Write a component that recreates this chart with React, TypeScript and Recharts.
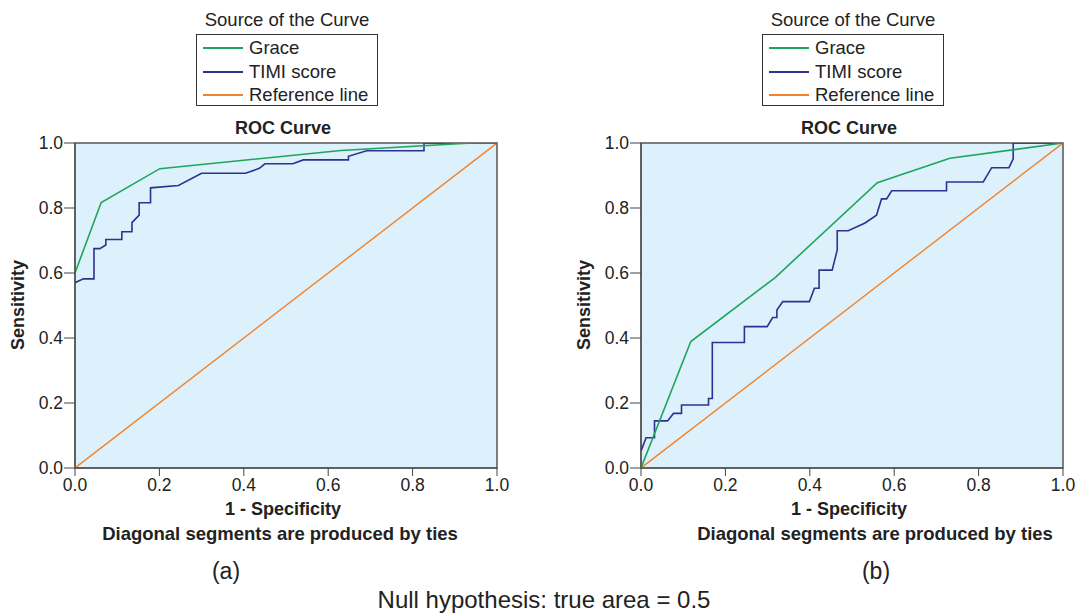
import React from 'react'
import { LineChart, Line, XAxis, YAxis, ReferenceArea } from 'recharts'

type Pt = { x: number; y: number }

const axisTicks = [0, 0.2, 0.4, 0.6, 0.8, 1.0]
const seriesNames = ['Grace', 'TIMI score', 'Reference line']
const seriesColors = ['#1fa55b', '#2e3192', '#f4822a']

// panel (a)
const graceA: Pt[] = [
  { x: 0, y: 0.6 }, { x: 0.062, y: 0.817 }, { x: 0.201, y: 0.921 },
  { x: 0.63, y: 0.977 }, { x: 0.94, y: 1.0 }, { x: 1, y: 1 },
]
const timiA: Pt[] = [
  { x: 0, y: 0.57 }, { x: 0.02, y: 0.582 }, { x: 0.045, y: 0.582 }, { x: 0.045, y: 0.675 },
  { x: 0.059, y: 0.675 }, { x: 0.073, y: 0.686 }, { x: 0.073, y: 0.703 }, { x: 0.111, y: 0.703 },
  { x: 0.111, y: 0.727 }, { x: 0.135, y: 0.727 }, { x: 0.135, y: 0.755 }, { x: 0.152, y: 0.778 },
  { x: 0.152, y: 0.816 }, { x: 0.179, y: 0.816 }, { x: 0.179, y: 0.862 }, { x: 0.245, y: 0.869 },
  { x: 0.3, y: 0.907 }, { x: 0.404, y: 0.907 }, { x: 0.437, y: 0.922 }, { x: 0.45, y: 0.936 },
  { x: 0.516, y: 0.936 }, { x: 0.541, y: 0.948 }, { x: 0.648, y: 0.948 }, { x: 0.648, y: 0.959 },
  { x: 0.691, y: 0.976 }, { x: 0.827, y: 0.976 }, { x: 0.827, y: 1.0 }, { x: 1, y: 1 },
]

// panel (b)
const graceB: Pt[] = [
  { x: 0, y: 0 }, { x: 0.118, y: 0.389 }, { x: 0.318, y: 0.586 },
  { x: 0.56, y: 0.878 }, { x: 0.732, y: 0.953 }, { x: 1, y: 1 },
]
const timiB: Pt[] = [
  { x: 0, y: 0.052 }, { x: 0.012, y: 0.093 }, { x: 0.032, y: 0.093 }, { x: 0.032, y: 0.145 },
  { x: 0.063, y: 0.145 }, { x: 0.077, y: 0.168 }, { x: 0.096, y: 0.168 }, { x: 0.096, y: 0.194 },
  { x: 0.16, y: 0.194 }, { x: 0.16, y: 0.214 }, { x: 0.169, y: 0.214 }, { x: 0.169, y: 0.386 },
  { x: 0.245, y: 0.386 }, { x: 0.245, y: 0.435 }, { x: 0.299, y: 0.435 }, { x: 0.312, y: 0.463 },
  { x: 0.322, y: 0.463 }, { x: 0.322, y: 0.486 }, { x: 0.336, y: 0.512 }, { x: 0.399, y: 0.512 },
  { x: 0.411, y: 0.553 }, { x: 0.422, y: 0.553 }, { x: 0.422, y: 0.609 }, { x: 0.453, y: 0.609 },
  { x: 0.465, y: 0.671 }, { x: 0.465, y: 0.73 }, { x: 0.491, y: 0.73 }, { x: 0.531, y: 0.754 },
  { x: 0.558, y: 0.778 }, { x: 0.57, y: 0.828 }, { x: 0.582, y: 0.828 }, { x: 0.594, y: 0.853 },
  { x: 0.724, y: 0.853 }, { x: 0.724, y: 0.88 }, { x: 0.811, y: 0.88 }, { x: 0.831, y: 0.924 },
  { x: 0.872, y: 0.924 }, { x: 0.882, y: 0.951 }, { x: 0.882, y: 1.0 }, { x: 1, y: 1 },
]

const referenceLine: Pt[] = [{ x: 0, y: 0 }, { x: 1, y: 1 }]

const font = '"Liberation Sans", Arial, Helvetica, sans-serif'
const axisColor = '#444'
const textColor = '#222'

// centered text line, cy = vertical centre of the line
function textAt(cx: number, cy: number, width: number, fontSize: number, bold = false): React.CSSProperties {
  return {
    position: 'absolute',
    left: cx - width / 2,
    top: cy - 14,
    width,
    height: 28,
    lineHeight: '28px',
    textAlign: 'center',
    fontSize,
    fontWeight: bold ? 'bold' : 'normal',
    fontFamily: font,
    color: textColor,
    whiteSpace: 'nowrap',
  }
}

function LegendBox({ cx }: { cx: number }) {
  return (
    <>
      <div style={textAt(cx, 20, 260, 18.5)}>Source of the Curve</div>
      <div
        style={{
          position: 'absolute',
          left: cx - 91,
          top: 34,
          width: 180,
          height: 70,
          border: '1px solid #333',
          background: '#fff',
        }}
      >
        {seriesNames.map((n, i) => (
          <div key={n} style={{ position: 'absolute', left: 6, top: 1 + i * 23.5, height: 24, display: 'flex', alignItems: 'center' }}>
            <div style={{ width: 40, height: 2, background: seriesColors[i], marginRight: 6 }} />
            <span style={{ fontSize: 18.5, fontFamily: font, color: textColor, lineHeight: '24px' }}>{n}</span>
          </div>
        ))}
      </div>
    </>
  )
}

function RocPanel(props: { left: number; grace: Pt[]; timi: Pt[]; label: string; diagCenter: number; labelCenter: number }) {
  const { left, grace, timi, label, diagCenter, labelCenter } = props
  const plotLeft = left + 75
  const plotCenter = plotLeft + 211
  const tickStyle = { fill: textColor, fontSize: 17.5, fontFamily: font }
  return (
    <>
      <LegendBox cx={plotCenter + 1} />
      <div style={textAt(plotCenter - 3, 128, 200, 18, true)}>ROC Curve</div>
      <div style={{ position: 'absolute', left, top: 110 }}>
        <LineChart width={520} height={400} margin={{ top: 33, right: 23, left: 0, bottom: 12 }}>
          <XAxis
            type="number"
            dataKey="x"
            domain={[0, 1]}
            ticks={axisTicks}
            tickFormatter={(v: number) => v.toFixed(1)}
            allowDataOverflow
            height={30}
            stroke={axisColor}
            tick={tickStyle}
            tickSize={8}
            tickMargin={3}
            interval={0}
          />
          <YAxis
            type="number"
            dataKey="y"
            domain={[0, 1]}
            ticks={axisTicks}
            tickFormatter={(v: number) => v.toFixed(1)}
            allowDataOverflow
            width={75}
            stroke={axisColor}
            tick={tickStyle}
            tickSize={11}
            tickMargin={1}
            interval={0}
          />
          <ReferenceArea x1={0} x2={1} y1={0} y2={1} fill="#dcf1fb" fillOpacity={1} stroke="#555" strokeWidth={1.5} />
          <Line data={referenceLine} dataKey="y" type="linear" stroke={seriesColors[2]} strokeWidth={1.4} dot={false} isAnimationActive={false} />
          <Line data={timi} dataKey="y" type="linear" stroke={seriesColors[1]} strokeWidth={1.6} dot={false} isAnimationActive={false} />
          <Line data={grace} dataKey="y" type="linear" stroke={seriesColors[0]} strokeWidth={1.6} dot={false} isAnimationActive={false} />
        </LineChart>
      </div>
      <div style={{ ...textAt(left + 18, 305, 140, 18, true), transform: 'rotate(-90deg)' }}>Sensitivity</div>
      <div style={textAt(plotCenter - 3, 509, 200, 18, true)}>1 - Specificity</div>
      <div style={textAt(diagCenter, 534, 420, 18.5, true)}>Diagonal segments are produced by ties</div>
      <div style={textAt(labelCenter, 571, 100, 23)}>{label}</div>
    </>
  )
}

export default function App() {
  return (
    <div style={{ position: 'absolute', left: 0, top: 0, width: 1084, height: 613, background: '#fff', overflow: 'hidden' }}>
      <RocPanel left={0} grace={graceA} timi={timiA} label="(a)" diagCenter={280} labelCenter={226} />
      <RocPanel left={566} grace={graceB} timi={timiB} label="(b)" diagCenter={875} labelCenter={876} />
      <div style={textAt(544, 600, 600, 24)}>Null hypothesis: true area = 0.5</div>
    </div>
  )
}
